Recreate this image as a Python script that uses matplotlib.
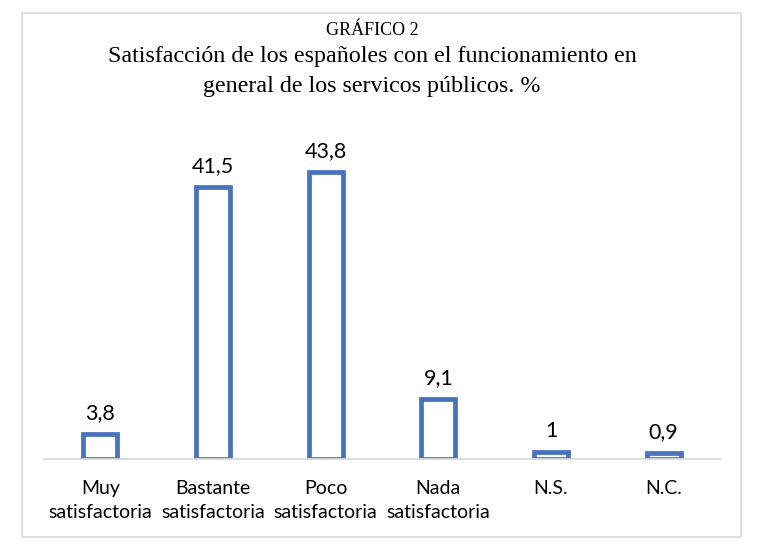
import matplotlib
matplotlib.use("Agg")
import matplotlib.pyplot as plt
from matplotlib.patches import Rectangle

categories = ["Muy\nsatisfactoria", "Bastante\nsatisfactoria", "Poco\nsatisfactoria",
              "Nada\nsatisfactoria", "N.S.", "N.C."]
values = [3.8, 41.5, 43.8, 9.1, 1, 0.9]
value_labels = ["3,8", "41,5", "43,8", "9,1", "1", "0,9"]

W, H = 762, 559
fig = plt.figure(figsize=(W / 100, H / 100), dpi=100)
fig.patch.set_facecolor("white")

# outer border
fig.patches.append(Rectangle((22 / W, 1 - 537 / H), (741 - 22) / W, (537 - 13) / H,
                             transform=fig.transFigure, fill=False,
                             edgecolor="#d9d9d9", linewidth=1.2))

ax = fig.add_axes([44 / W, 1 - 459 / H, (720 - 44) / W, 327.5 / H])
x = list(range(len(values)))
ax.bar(x, values, width=0.30, facecolor="white", edgecolor="#4472C4",
       linewidth=3.4, clip_on=True, zorder=1)
ax.set_xlim(-0.5, len(values) - 0.5)
ax.set_ylim(0, 50)

for xi, v, lab in zip(x, values, value_labels):
    ax.annotate(lab, (xi, v), xytext=(0, 8), textcoords="offset points",
                ha="center", va="bottom", fontsize=15.5, family="Lato", color="black")

for s in ["top", "right", "left"]:
    ax.spines[s].set_visible(False)
ax.spines["bottom"].set_color("#d9d9d9")
ax.spines["bottom"].set_linewidth(1.3)
ax.spines["bottom"].set_zorder(3)
ax.set_yticks([])
ax.set_xticks(x)
ax.set_xticklabels(categories, fontsize=14, family="Lato", linespacing=1.5)
ax.tick_params(axis="x", length=0, pad=15)

fig.text(372 / W, 1 - 35 / H, "GRÁFICO 2", ha="center", va="baseline",
         fontsize=13, family="Liberation Serif")
fig.text(372 / W, 1 - 62 / H, "Satisfacción de los españoles con el funcionamiento en",
         ha="center", va="baseline", fontsize=17.3, family="Liberation Serif")
fig.text(372 / W, 1 - 92 / H, "general de los servicos públicos. %",
         ha="center", va="baseline", fontsize=17.3, family="Liberation Serif")

fig.savefig("out.png", dpi=100, facecolor="white")
